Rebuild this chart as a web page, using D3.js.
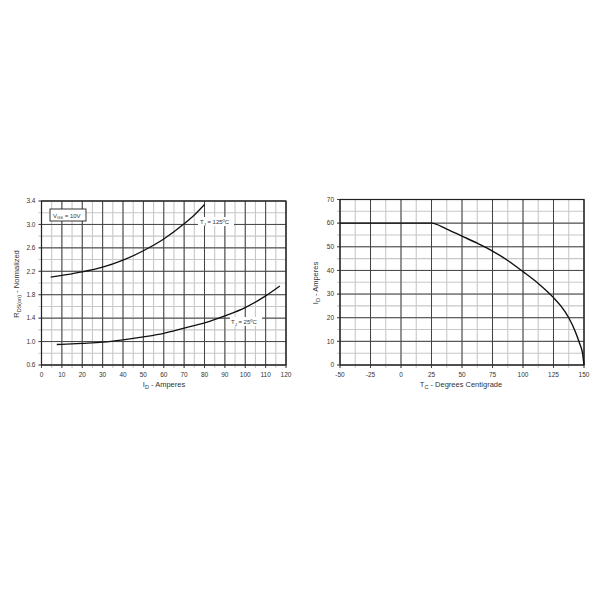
<!DOCTYPE html>
<html><head><meta charset="utf-8">
<script src="https://cdn.jsdelivr.net/npm/d3@7"></script>
<style>body{margin:0;background:#fff}svg{display:block}text{font-family:"Liberation Sans",Arial,sans-serif;fill:#333}</style>
</head><body><svg id="c" width="600" height="600"></svg>
<script>
// Left chart: RDS(on) normalized vs ID
const leftXTicks = [0,10,20,30,40,50,60,70,80,90,100,110,120];
const leftYTicks = [0.6,1.0,1.4,1.8,2.2,2.6,3.0,3.4];
const tj125 = [[4.5,2.10],[10,2.13],[20,2.19],[30,2.27],[40,2.39],[50,2.55],[60,2.75],[70,3.01],[75,3.16],[80,3.34]];
const tj25 = [[7.5,0.95],[20,0.97],[30,0.99],[40,1.03],[50,1.08],[60,1.14],[70,1.23],[80,1.32],[90,1.44],[100,1.58],[110,1.78],[117,1.95]];
// Right chart: ID vs TC
const rightXTicks = [-50,-25,0,25,50,75,100,125,150];
const rightYTicks = [0,10,20,30,40,50,60,70];
const derate = [[-50,60],[25,60],[37.5,57.5],[50,54.5],[62.5,51.5],[75,48.2],[87.5,44.2],[100,39.5],[112.5,34.5],[125,28.5],[131,25],[137.5,20],[143,14],[146.5,9],[148.8,5],[150,0]];

const svg = d3.select("#c");

function panel(opt){
  const g = svg.append("g");
  const x = d3.scaleLinear().domain(opt.xd).range([opt.l, opt.r]);
  const y = d3.scaleLinear().domain(opt.yd).range([opt.b, opt.t]);
  const xMinor = d3.range(opt.xd[0], opt.xd[1]+1e-9, opt.xm);
  const yMinor = d3.range(opt.yd[0], opt.yd[1]+1e-9, opt.ym);
  g.selectAll(".vm").data(xMinor).join("line")
    .attr("x1", d=>x(d)).attr("x2", d=>x(d)).attr("y1", opt.t).attr("y2", opt.b+3)
    .attr("stroke","#c8c8c8").attr("stroke-width",1.1);
  g.selectAll(".hm").data(yMinor).join("line")
    .attr("y1", d=>y(d)).attr("y2", d=>y(d)).attr("x1", opt.l-3).attr("x2", opt.r)
    .attr("stroke","#c8c8c8").attr("stroke-width",1.1);
  g.selectAll(".vM").data(opt.xt).join("line")
    .attr("x1", d=>x(d)).attr("x2", d=>x(d)).attr("y1", opt.t).attr("y2", opt.b+3)
    .attr("stroke","#444").attr("stroke-width",1);
  g.selectAll(".hM").data(opt.yt).join("line")
    .attr("y1", d=>y(d)).attr("y2", d=>y(d)).attr("x1", opt.l-3).attr("x2", opt.r)
    .attr("stroke","#444").attr("stroke-width",1);
  g.append("rect").attr("x",opt.l).attr("y",opt.t).attr("width",opt.r-opt.l).attr("height",opt.b-opt.t)
    .attr("fill","none").attr("stroke","#222").attr("stroke-width",1.2);
  g.selectAll(".xl").data(opt.xt).join("text")
    .attr("x", d=>x(d)).attr("y", opt.b+12).attr("text-anchor","middle")
    .attr("font-size",6.5).text(opt.xf);
  g.selectAll(".yl").data(opt.yt).join("text")
    .attr("x", opt.l-6).attr("y", d=>y(d)+2.3).attr("text-anchor","end")
    .attr("font-size",6.5).text(opt.yf);
  return {g,x,y};
}

const L = panel({l:41.5, r:286, t:201, b:365, xd:[0,120], yd:[0.6,3.4], xt:leftXTicks, yt:leftYTicks, xm:5, ym:0.2,
  xf:d=>d, yf:d=>d3.format(".1f")(d)});
const R = panel({l:340, r:584, t:199.5, b:365, xd:[-50,150], yd:[0,70], xt:rightXTicks, yt:rightYTicks, xm:12.5, ym:5,
  xf:d=>d, yf:d=>d});

const lineL = d3.line().x(d=>L.x(d[0])).y(d=>L.y(d[1])).curve(d3.curveMonotoneX);
[tj125, tj25].forEach(s=>{
  L.g.append("path").attr("d", lineL(s)).attr("fill","none").attr("stroke","#111").attr("stroke-width",1.3);
});
const lineR = d3.line().x(d=>R.x(d[0])).y(d=>R.y(d[1])).curve(d3.curveMonotoneX);
R.g.append("path").attr("d", lineR(derate)).attr("fill","none").attr("stroke","#111").attr("stroke-width",1.4);

function lab(g, x, y, main, sub, rest, fs){
  const t = g.append("text").attr("x",x).attr("y",y).attr("font-size",fs);
  t.append("tspan").text(main);
  t.append("tspan").attr("font-size",fs*0.7).attr("dy",1.5).text(sub);
  t.append("tspan").attr("dy",-1.5).text(rest);
  return t;
}
L.g.append("rect").attr("x",50).attr("y",209).attr("width",36).attr("height",12)
  .attr("fill","#fff").attr("stroke","#222").attr("stroke-width",0.9);
lab(L.g, 53, 217.5, "V", "GS", " = 10V", 6);
L.g.append("rect").attr("x",198).attr("y",217).attr("width",36).attr("height",9).attr("fill","#fff");
lab(L.g, 200, 224, "T", "J", " = 125ºC", 6);
L.g.append("rect").attr("x",230).attr("y",317).attr("width",32).attr("height",9).attr("fill","#fff");
lab(L.g, 231, 324, "T", "J", " = 25ºC", 6);

function title(g, x, y, main, sub, rest, rot){
  const t = g.append("text").attr("x",x).attr("y",y).attr("font-size",7.5).attr("text-anchor","middle");
  if(rot) t.attr("transform",`rotate(-90,${x},${y})`);
  t.append("tspan").text(main);
  t.append("tspan").attr("font-size",5.5).attr("dy",1.5).text(sub);
  t.append("tspan").attr("dy",-1.5).text(rest);
}
title(L.g, 164, 387, "I", "D", " - Amperes", false);
title(L.g, 19, 284, "R", "DS(on)", " - Normalized", true);
title(R.g, 461, 387, "T", "C", " - Degrees Centigrade", false);
title(R.g, 318, 283, "I", "D", " - Amperes", true);
</script></body></html>
